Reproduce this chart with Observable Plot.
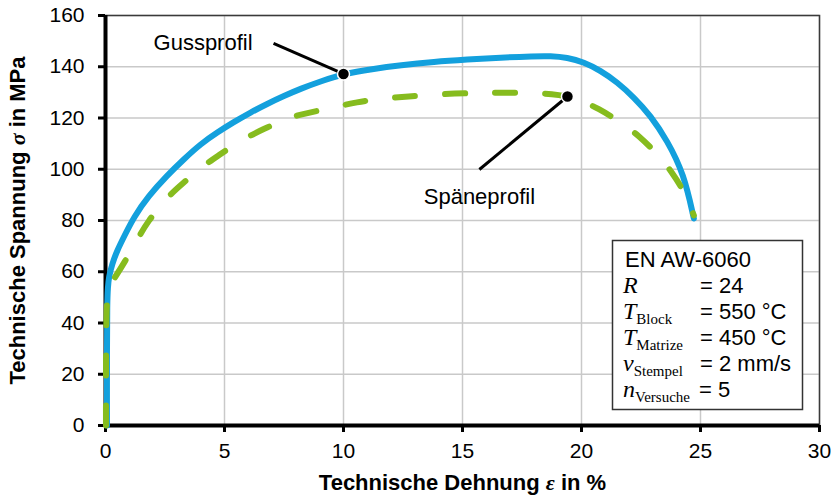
<!DOCTYPE html>
<html><head><meta charset="utf-8">
<script src="https://cdn.jsdelivr.net/npm/d3@7"></script>
<script src="https://cdn.jsdelivr.net/npm/@observablehq/plot@0.6"></script>
<style>
body{margin:0;background:#fff}
#chart{width:837px;height:496px}
</style></head><body><div id="chart"></div>
<script>
// ---- data ----
const xTicks = [0, 5, 10, 15, 20, 25, 30];
const yTicks = [0, 20, 40, 60, 80, 100, 120, 140, 160];
const xLabel = "Technische Dehnung ε in %";
const yLabel = "Technische Spannung σ in MPa";

const gussX = [0.06, 0.06, 0.07, 0.10, 0.14, 0.28, 0.49, 0.80, 1.19, 1.80, 2.59, 3.30, 4.00, 4.70, 5.39, 6.10, 6.79, 7.50, 8.19, 9.10, 10.0, 11.2, 12.4, 13.8, 15.2, 16.6, 18.0, 18.7, 19.4, 20.1, 20.8, 21.5, 22.2, 22.9, 23.6, 24.3, 24.72];
const gussY = [0, 30, 48, 54, 57.9, 63.1, 68.3, 74.1, 81.3, 89.5, 97.6, 104, 109.9, 114.4, 118.4, 122.2, 125.5, 128.6, 131.4, 134.5, 137.2, 139.1, 140.6, 141.9, 142.8, 143.6, 144.1, 144.2, 143.6, 141.8, 138.5, 134.0, 128.1, 121.0, 111.2, 98.3, 80.8];

const spaeneX = [0.02, 0.02, 0.04, 0.10, 0.20, 0.34, 0.80, 1.39, 1.75, 2.59, 3.22, 4.13, 4.69, 5.67, 6.65, 7.77, 8.19, 9.58, 10.57, 11.55, 12.67, 14.2, 15.76, 16.74, 17.9, 18.8, 19.4, 20.1, 20.66, 21.64, 22.4, 23.18, 23.81, 24.37, 24.72];
const spaeneY = [0, 30, 46, 52, 55, 57, 63.6, 73.4, 79.3, 89.1, 94.3, 101.5, 105.0, 111.2, 115.8, 120.3, 121.3, 124.2, 126.2, 127.5, 128.4, 129.4, 129.8, 129.9, 129.9, 129.3, 128.5, 126.2, 124.0, 118.4, 113.2, 106.0, 98.9, 90.4, 82.0];

const annotationLabels = ["Gussprofil", "Späneprofil"];
const annotationDotX = [10.0, 19.41];
const annotationDotY = [137.2, 128.4];
const annotationFromX = [7.06, 15.71];
const annotationFromY = [149.1, 99.9];
const annotationTextX = [6.18, 15.71];
const annotationTextY = [149.1, 89.0];

const legendTitle = "EN AW-6060";
const legendSymbols = ["R", "T", "T", "v", "n"];
const legendSubscripts = ["", "Block", "Matrize", "Stempel", "Versuche"];
const legendValues = ["= 24", "= 550 °C", "= 450 °C", "= 2 mm/s", "= 5"];

// ---- tables ----
const guss = gussX.map((x, i) => ({x, y: gussY[i]}));
const spaene = spaeneX.map((x, i) => ({x, y: spaeneY[i]}));
const annotations = annotationLabels.map((label, i) => ({
  label, dx: annotationDotX[i], dy: annotationDotY[i],
  fx: annotationFromX[i], fy: annotationFromY[i],
  tx: annotationTextX[i], ty: annotationTextY[i]
}));

const SANS = "'Liberation Sans', Arial, sans-serif";
const SERIF = "'Liberation Serif', 'Times New Roman', serif";
const BLUE = "#13a0dd";
const GREEN = "#86bc1e";

const plot = Plot.plot({
  width: 837, height: 496,
  marginLeft: 105, marginRight: 18, marginTop: 15, marginBottom: 71,
  style: {fontFamily: SANS, fontSize: "21px", background: "white", color: "black"},
  x: {domain: [0, 30], axis: null},
  y: {domain: [0, 160], axis: null},
  marks: [
    Plot.gridX({ticks: xTicks, stroke: "#c9c9c9", strokeOpacity: 1, strokeWidth: 1.5}),
    Plot.gridY({ticks: yTicks, stroke: "#c9c9c9", strokeOpacity: 1, strokeWidth: 1.5}),
    Plot.frame({stroke: "#3a3a3a", strokeWidth: 1.5}),
    Plot.ruleX([0], {stroke: "black", strokeWidth: 4}),
    Plot.ruleY([0], {stroke: "black", strokeWidth: 4}),
    Plot.axisX({ticks: xTicks, tickSize: 7, tickPadding: 11, strokeWidth: 3, fontSize: 21, label: null, tickFormat: d => String(d)}),
    Plot.axisY({ticks: yTicks, tickSize: 7, tickPadding: 14, strokeWidth: 3, fontSize: 21, label: null, tickFormat: d => String(d)}),
    Plot.line(guss, {x: "x", y: "y", stroke: BLUE, strokeWidth: 6, curve: "basis"}),
    Plot.line(spaene, {x: "x", y: "y", stroke: GREEN, strokeWidth: 6, curve: "basis", strokeDasharray: "20,30", strokeLinecap: "round"}),
    Plot.link(annotations, {x1: "fx", y1: "fy", x2: "dx", y2: "dy", stroke: "black", strokeWidth: 3}),
    Plot.dot(annotations, {x: "dx", y: "dy", r: 6, fill: "black", stroke: "white", strokeWidth: 1.5}),
    Plot.text(annotations.slice(0, 1), {x: "tx", y: "ty", text: "label", textAnchor: "end", lineAnchor: "middle", fontSize: 22, fill: "black"}),
    Plot.text(annotations.slice(1), {x: "tx", y: "ty", text: "label", textAnchor: "middle", lineAnchor: "middle", fontSize: 22, fill: "black"}),
    Plot.text([xLabel], {frameAnchor: "bottom", textAnchor: "middle", lineAnchor: "middle", dy: 57, fontSize: 22, fontWeight: "bold"}),
    Plot.text([yLabel], {frameAnchor: "left", textAnchor: "middle", lineAnchor: "middle", dx: -88, rotate: -90, fontSize: 22, fontWeight: "bold"})
  ]
});

// italic Greek letters in axis labels
d3.select(plot).selectAll("text").each(function () {
  const t = this.textContent;
  const m = t.match(/[εσ]/);
  if (m && this.childElementCount === 0) {
    const parts = t.split(m[0]);
    this.textContent = "";
    const s = d3.select(this);
    s.append("tspan").text(parts[0]);
    s.append("tspan").attr("font-family", SERIF).attr("font-style", "italic").text(m[0]);
    s.append("tspan").text(parts[1]);
  }
});

// parameter box
const g = d3.select(plot).append("g").attr("class", "param-box").attr("text-anchor", "start");
g.append("rect").attr("x", 612.5).attr("y", 240.5).attr("width", 190).attr("height", 169)
  .attr("fill", "white").attr("stroke", "#333").attr("stroke-width", 1.5);
g.append("text").attr("x", 625).attr("y", 267).attr("text-anchor", "start").attr("font-family", SANS).attr("font-size", 22).attr("fill", "black").text(legendTitle);
legendSymbols.forEach((sym, i) => {
  const yb = 293 + 26 * i;
  const t = g.append("text").attr("x", 623).attr("y", yb).attr("text-anchor", "start").attr("fill", "black")
    .attr("font-family", SERIF);
  t.append("tspan").attr("font-style", "italic").attr("font-size", 24).text(sym);
  if (legendSubscripts[i]) t.append("tspan").attr("font-size", 15).attr("dy", 5).text(legendSubscripts[i]);
  g.append("text").attr("x", i === 4 ? 699 : 700).attr("y", yb).attr("text-anchor", "start").attr("font-family", SANS).attr("font-size", 22)
    .attr("fill", "black").text(legendValues[i]);
});

document.getElementById("chart").append(plot);
</script>
</body></html>
